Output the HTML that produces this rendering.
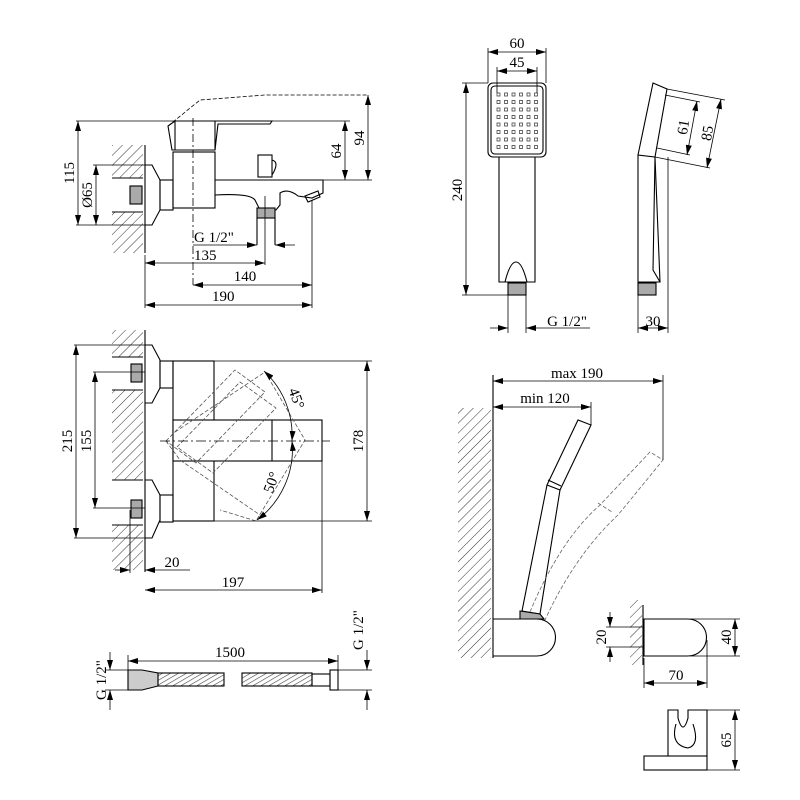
<!DOCTYPE html>
<html><head><style>html,body{margin:0;padding:0;background:#fff}svg{display:block}</style></head><body>
<svg width="800" height="800" viewBox="0 0 800 800" xmlns="http://www.w3.org/2000/svg" font-family="Liberation Serif, serif" font-size="15" fill="none" stroke="#000">
<defs>
<pattern id="h" width="7" height="7" patternUnits="userSpaceOnUse" patternTransform="rotate(45)"><line x1="0" y1="0" x2="0" y2="7" stroke="#333" stroke-width="1"/></pattern>
<pattern id="hs" width="4" height="4" patternUnits="userSpaceOnUse" patternTransform="rotate(60)"><line x1="0" y1="0" x2="0" y2="4" stroke="#444" stroke-width="1.2"/></pattern>
<marker id="a" markerWidth="10" markerHeight="6" refX="10" refY="3" orient="auto-start-reverse" markerUnits="userSpaceOnUse"><path d="M0,0 L10,3 L0,6" fill="#000" stroke="none"/></marker>
</defs>
<g stroke-width="1.1" stroke="#000">
<!-- ===== VIEW 1 ===== -->
<rect x="112" y="145" width="31" height="33" fill="url(#h)" stroke="none"/>
<rect x="112" y="212" width="31" height="41" fill="url(#h)" stroke="none"/>
<line x1="112" y1="178" x2="143" y2="178"/><line x1="112" y1="212" x2="143" y2="212"/>
<rect x="130" y="186" width="12" height="18" fill="#aaa"/>
<line x1="145" y1="145" x2="145" y2="253"/>
<path d="M145,165 H152 L160,180 V210 L152,225 H145"/>
<rect x="160" y="180" width="13" height="30"/>
<rect x="173" y="152" width="42" height="56"/>
<path d="M172,150 L168,126 L175,121 H215 L215,150 Z"/>
<path d="M175,121 V150"/>
<path d="M215,121 H272 L270,124 H218 L215,150"/>
<path d="M168,126 L200,100 L265,95 L368,95" stroke-dasharray="4,2" stroke-width="0.8"/>
<path d="M215,180 H323 V193 L312,198 L298,196 Q288,188 280,193 V205 L276,210 H260 L255,200 Q250,193 215,195"/>
<rect x="258" y="155" width="14" height="22"/><path d="M272,160 Q280,162 272,175"/>
<rect x="257" y="208" width="18" height="10" fill="#aaa"/>
<line x1="257" y1="218" x2="257" y2="245"/><line x1="275" y1="218" x2="275" y2="245"/>
<path d="M305,196 L318,191 L320,197 L308,202 Z"/>
<line x1="193" y1="118" x2="193" y2="285" stroke-dasharray="8,3,2,3" stroke-width="0.8"/>
<g stroke-width="0.8">
<line x1="265" y1="196" x2="265" y2="265"/>
<line x1="312" y1="200" x2="312" y2="308"/>
<line x1="76" y1="121" x2="350" y2="121"/><line x1="76" y1="225" x2="145" y2="225"/>
<line x1="93" y1="165" x2="145" y2="165"/>
<line x1="323" y1="180" x2="372" y2="180"/>
<line x1="145" y1="255" x2="145" y2="308"/>
<line x1="78" y1="121" x2="78" y2="225" marker-start="url(#a)" marker-end="url(#a)"/>
<line x1="96" y1="165" x2="96" y2="225" marker-start="url(#a)" marker-end="url(#a)"/>
<line x1="345" y1="121" x2="345" y2="180" marker-start="url(#a)" marker-end="url(#a)"/>
<line x1="368" y1="95" x2="368" y2="180" marker-start="url(#a)" marker-end="url(#a)"/>
<line x1="193" y1="245" x2="257" y2="245" marker-end="url(#a)"/>
<line x1="295" y1="245" x2="275" y2="245" marker-end="url(#a)"/>
<line x1="145" y1="263" x2="265" y2="263" marker-start="url(#a)" marker-end="url(#a)"/>
<line x1="193" y1="285" x2="312" y2="285" marker-start="url(#a)" marker-end="url(#a)"/>
<line x1="145" y1="305" x2="312" y2="305" marker-start="url(#a)" marker-end="url(#a)"/>
</g>

<!-- ===== VIEW 2 ===== -->
<rect x="112" y="330" width="31" height="27" fill="url(#h)" stroke="none"/>
<rect x="112" y="390" width="31" height="90" fill="url(#h)" stroke="none"/>
<rect x="112" y="525" width="31" height="45" fill="url(#h)" stroke="none"/>
<line x1="112" y1="357" x2="143" y2="357"/><line x1="112" y1="390" x2="143" y2="390"/>
<line x1="112" y1="480" x2="143" y2="480"/><line x1="112" y1="525" x2="143" y2="525"/>
<rect x="131" y="364" width="11" height="18" fill="#aaa"/>
<rect x="131" y="500" width="11" height="18" fill="#aaa"/>
<line x1="145" y1="330" x2="145" y2="572"/>
<path d="M145,345 H152 L160,360 V388 L152,403 H145"/>
<path d="M145,480 H152 L160,495 V520 L152,538 H145"/>
<rect x="160" y="361" width="13" height="27"/>
<rect x="160" y="495" width="13" height="27"/>
<rect x="173" y="361" width="41" height="160"/>
<rect x="173" y="420" width="149" height="41" fill="#fff"/>
<line x1="272" y1="420" x2="272" y2="461"/>
<g stroke-dasharray="4,2" stroke="#555" stroke-width="0.8">
<path d="M166,441 L235,370 L265,392 L196,463 Z"/>
<path d="M177,447 L240,382 L276,408 L213,473 Z"/>
<path d="M175,432 L265,372 L305,440 L256,521 L220,510"/>
<path d="M166,441 L180,460 L260,515"/>
</g>
<line x1="160" y1="441" x2="330" y2="441" stroke-dasharray="10,3,2,3" stroke-width="0.8"/>
<g stroke-width="0.8">
<path d="M264,371 A88,88 0 0 1 292,441" marker-start="url(#a)" marker-end="url(#a)"/>
<path d="M292,441 A88,88 0 0 1 257,520" marker-start="url(#a)" marker-end="url(#a)"/>
<line x1="214" y1="361" x2="372" y2="361"/><line x1="214" y1="521" x2="372" y2="521"/>
<line x1="74" y1="345" x2="145" y2="345"/><line x1="74" y1="538" x2="145" y2="538"/>
<line x1="93" y1="372" x2="145" y2="372"/><line x1="93" y1="508" x2="145" y2="508"/>
<line x1="76" y1="345" x2="76" y2="538" marker-start="url(#a)" marker-end="url(#a)"/>
<line x1="95" y1="372" x2="95" y2="508" marker-start="url(#a)" marker-end="url(#a)"/>
<line x1="367" y1="361" x2="367" y2="521" marker-start="url(#a)" marker-end="url(#a)"/>
<line x1="130" y1="510" x2="130" y2="573"/>
<line x1="322" y1="461" x2="322" y2="593"/>
<line x1="115" y1="570" x2="130" y2="570" marker-end="url(#a)"/>
<line x1="190" y1="570" x2="145" y2="570" marker-end="url(#a)"/>
<line x1="145" y1="590" x2="322" y2="590" marker-start="url(#a)" marker-end="url(#a)"/>
</g>

<!-- ===== HOSE ===== -->
<g stroke-width="0.8">
<line x1="128" y1="655" x2="128" y2="670"/>
<line x1="338" y1="655" x2="338" y2="670"/>
<line x1="128" y1="661" x2="338" y2="661" marker-start="url(#a)" marker-end="url(#a)"/>
</g>
<path d="M128,670 H142 L158,673 V686 L142,690 H128 Z" fill="#ccc"/>
<rect x="158" y="673" width="66" height="13" fill="url(#hs)"/>
<rect x="242" y="673" width="70" height="13" fill="url(#hs)"/>
<rect x="312" y="674" width="18" height="12"/>
<rect x="330" y="670" width="8" height="20"/>
<g stroke-width="0.8">
<line x1="105" y1="670" x2="128" y2="670"/><line x1="105" y1="690" x2="128" y2="690"/>
<line x1="110" y1="652" x2="110" y2="670" marker-end="url(#a)"/>
<line x1="110" y1="710" x2="110" y2="690" marker-end="url(#a)"/>
<line x1="338" y1="670" x2="372" y2="670"/><line x1="338" y1="690" x2="372" y2="690"/>
<line x1="367" y1="650" x2="367" y2="670" marker-end="url(#a)"/>
<line x1="367" y1="710" x2="367" y2="690" marker-end="url(#a)"/>
</g>

<!-- ===== HAND SHOWER FRONT ===== -->
<rect x="488" y="83" width="58" height="74" rx="5"/>
<rect x="491" y="86" width="52" height="68" rx="4"/>
<path d="M499,157 V282 H535 V157"/>
<path d="M505,282 Q510,262 516,262 Q522,262 527,282"/>
<rect x="508" y="283" width="18" height="12" fill="#aaa"/>
<g stroke-width="0.8">
<line x1="508" y1="295" x2="508" y2="333"/><line x1="526" y1="295" x2="526" y2="333"/>
<line x1="488" y1="48" x2="488" y2="83"/><line x1="546" y1="48" x2="546" y2="83"/>
<line x1="497" y1="67" x2="497" y2="93"/><line x1="537" y1="67" x2="537" y2="93"/>
<line x1="488" y1="52" x2="546" y2="52" marker-start="url(#a)" marker-end="url(#a)"/>
<line x1="497" y1="71" x2="537" y2="71" marker-start="url(#a)" marker-end="url(#a)"/>
<line x1="462" y1="83" x2="488" y2="83"/><line x1="462" y1="295" x2="508" y2="295"/>
<line x1="466" y1="83" x2="466" y2="295" marker-start="url(#a)" marker-end="url(#a)"/>
<line x1="490" y1="328" x2="508" y2="328" marker-end="url(#a)"/>
<line x1="590" y1="328" x2="526" y2="328" marker-end="url(#a)"/>
</g>
<!-- side -->
<path d="M653,83 L667,89 L655,157 L638,155 Z"/>
<path d="M638,155 V282 H660 L655,157"/>
<path d="M655,157 L653,270 L660,282"/>
<rect x="638" y="283" width="18" height="12" fill="#aaa"/>
<g stroke-width="0.8">
<line x1="638" y1="295" x2="638" y2="333"/><line x1="668" y1="157" x2="668" y2="333"/>
<line x1="638" y1="328" x2="668" y2="328" marker-start="url(#a)" marker-end="url(#a)"/>
<line x1="667" y1="89" x2="725" y2="100"/><line x1="655" y1="157" x2="710" y2="168"/>
<line x1="665" y1="95" x2="700" y2="102"/><line x1="657" y1="148" x2="690" y2="155"/>
<line x1="721" y1="99" x2="707" y2="168" marker-start="url(#a)" marker-end="url(#a)"/>
<line x1="697" y1="101" x2="687" y2="155" marker-start="url(#a)" marker-end="url(#a)"/>
</g>

<!-- ===== WALL SHOWER ===== -->
<rect x="458" y="408" width="33" height="250" fill="url(#h)" stroke="none"/>
<line x1="493" y1="375" x2="493" y2="658"/>
<g stroke-width="0.8">
<line x1="663" y1="375" x2="663" y2="460"/><line x1="591" y1="402" x2="591" y2="425"/>
<line x1="493" y1="381" x2="663" y2="381" marker-start="url(#a)" marker-end="url(#a)"/>
<line x1="493" y1="407" x2="591" y2="407" marker-start="url(#a)" marker-end="url(#a)"/>
</g>
<path d="M493,619 H537 A18.5,18.5 0 0 1 537,656 H493"/>
<path d="M522,611 L547,485 L560,490 L540,614 Z"/>
<path d="M547,485 L578,420 L591,425 L560,490"/>
<path d="M548,480 L561,486"/>
<path d="M520,611 L540,614 L544,619 H520 Z" fill="#aaa"/>
<g stroke-dasharray="4,2" stroke="#666" stroke-width="0.8">
<path d="M530,612 Q560,540 600,505 L650,452 L663,460 L618,515 Q575,555 545,620"/>
<path d="M598,503 L612,512"/>
</g>
<!-- side holder -->
<rect x="630" y="600" width="12" height="65" fill="url(#h)" stroke="none"/>
<line x1="643" y1="605" x2="643" y2="665"/>
<path d="M644,619 H688 A18.5,18.5 0 0 1 688,656 H644 Z"/>
<g stroke-width="0.8">
<line x1="606" y1="627" x2="643" y2="627"/><line x1="606" y1="647" x2="643" y2="647"/>
<line x1="610" y1="612" x2="610" y2="627" marker-end="url(#a)"/>
<line x1="610" y1="662" x2="610" y2="647" marker-end="url(#a)"/>
<line x1="690" y1="619" x2="740" y2="619"/><line x1="690" y1="656" x2="740" y2="656"/>
<line x1="735" y1="619" x2="735" y2="656" marker-start="url(#a)" marker-end="url(#a)"/>
<line x1="644" y1="658" x2="644" y2="688"/><line x1="707" y1="640" x2="707" y2="688"/>
<line x1="644" y1="683" x2="707" y2="683" marker-start="url(#a)" marker-end="url(#a)"/>
</g>
<!-- bracket -->
<path d="M668,710 H678 V718 Q683,736 688,718 V710 H707 V756 H668 Z"/>
<path d="M676,724 Q670,745 688,748 Q700,745 693,724"/>
<rect x="644" y="756" width="63" height="14"/>
<g stroke-width="0.8">
<line x1="707" y1="710" x2="740" y2="710"/><line x1="707" y1="770" x2="740" y2="770"/>
<line x1="735" y1="710" x2="735" y2="770" marker-start="url(#a)" marker-end="url(#a)"/>
</g>
</g>
<!-- dots -->
<g fill="none" stroke="#333" stroke-width="0.7">
<path id="row" d="M497,93h3v3h-3z M504.5,93h3v3h-3z M512,93h3v3h-3z M519.5,93h3v3h-3z M527,93h3v3h-3z M534.5,93h3v3h-3z"/>
<use href="#row" y="7.5"/><use href="#row" y="15"/><use href="#row" y="22.5"/><use href="#row" y="30"/><use href="#row" y="37.5"/><use href="#row" y="45"/><use href="#row" y="52.5"/>
</g>
<!-- text -->
<g fill="#000" stroke="none">
<text x="74" y="173" transform="rotate(-90 74 173)" text-anchor="middle">115</text>
<text x="92" y="195" transform="rotate(-90 92 195)" text-anchor="middle">Ø65</text>
<text x="341" y="151" transform="rotate(-90 341 151)" text-anchor="middle">64</text>
<text x="364" y="138" transform="rotate(-90 364 138)" text-anchor="middle">94</text>
<text x="194" y="242">G 1/2"</text>
<text x="194" y="260">135</text>
<text x="245" y="281" text-anchor="middle">140</text>
<text x="212" y="301">190</text>
<text x="72" y="441" transform="rotate(-90 72 441)" text-anchor="middle">215</text>
<text x="91" y="441" transform="rotate(-90 91 441)" text-anchor="middle">155</text>
<text x="363" y="441" transform="rotate(-90 363 441)" text-anchor="middle">178</text>
<text x="292" y="400" transform="rotate(70 292 400)" text-anchor="middle">45°</text>
<text x="276" y="484" transform="rotate(-70 276 484)" text-anchor="middle">50°</text>
<text x="172" y="567" text-anchor="middle">20</text>
<text x="233" y="587" text-anchor="middle">197</text>
<text x="230" y="657" text-anchor="middle">1500</text>
<text x="106" y="680" transform="rotate(-90 106 680)" text-anchor="middle">G 1/2"</text>
<text x="363" y="630" transform="rotate(-90 363 630)" text-anchor="middle">G 1/2"</text>
<text x="517" y="48" text-anchor="middle">60</text>
<text x="517" y="67" text-anchor="middle">45</text>
<text x="462" y="190" transform="rotate(-90 462 190)" text-anchor="middle">240</text>
<text x="567" y="326" text-anchor="middle">G 1/2"</text>
<text x="653" y="326" text-anchor="middle">30</text>
<text x="688" y="128" transform="rotate(-80 688 128)" text-anchor="middle">61</text>
<text x="712" y="134" transform="rotate(-80 712 134)" text-anchor="middle">85</text>
<text x="577" y="378" text-anchor="middle">max 190</text>
<text x="545" y="403" text-anchor="middle">min 120</text>
<text x="606" y="637" transform="rotate(-90 606 637)" text-anchor="middle">20</text>
<text x="731" y="637" transform="rotate(-90 731 637)" text-anchor="middle">40</text>
<text x="676" y="680" text-anchor="middle">70</text>
<text x="731" y="740" transform="rotate(-90 731 740)" text-anchor="middle">65</text>
</g>
</svg>
</body></html>
